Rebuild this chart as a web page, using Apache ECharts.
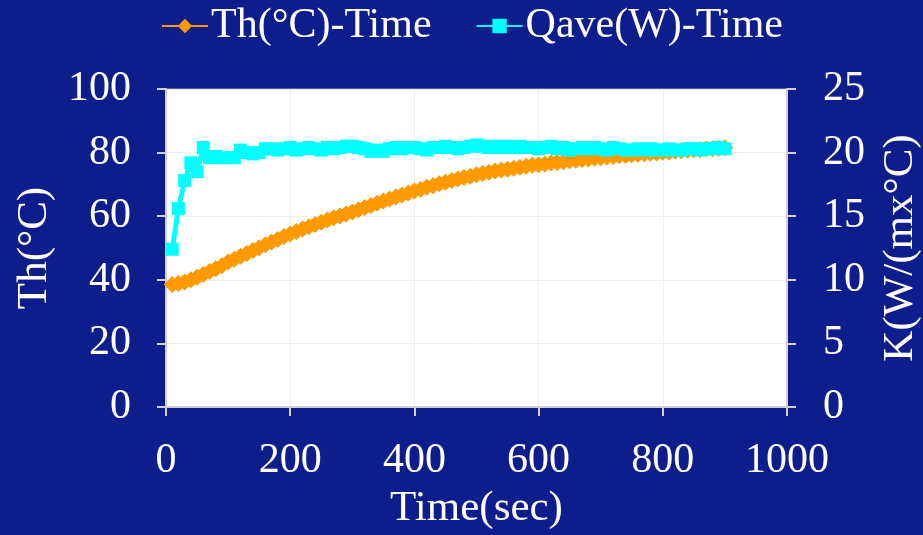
<!DOCTYPE html>
<html>
<head>
<meta charset="utf-8">
<script src="https://cdn.jsdelivr.net/npm/echarts@6/dist/echarts.min.js"></script>
<style>
html, body { margin: 0; padding: 0; background: #0d1e8c; }
#chart { width: 923px; height: 535px; }
</style>
</head>
<body>
<div id="chart"></div>
<script>
// time in seconds
var timeSec = [10,20,30,40,50,60,70,80,90,100,110,120,130,140,150,160,170,180,190,200,
    210,220,230,240,250,260,270,280,290,300,310,320,330,340,350,360,370,380,390,400,
    410,420,430,440,450,460,470,480,490,500,510,520,530,540,550,560,570,580,590,600,
    610,620,630,640,650,660,670,680,690,700,710,720,730,740,750,760,770,780,790,800,
    810,820,830,840,850,860,870,880,890,900];
// Th (°C), left axis
var thValues = [38.5,38.8,39.3,40.0,40.8,41.7,42.6,43.5,44.4,45.6,46.5,47.4,48.3,49.2,50.1,51.0,51.9,52.7,53.6,54.4,
    55.2,56.0,56.7,57.4,58.1,58.8,59.5,60.1,60.7,61.3,62.0,62.7,63.4,64.1,64.8,65.4,66.0,66.7,67.3,67.9,
    68.5,69.1,69.6,70.2,70.7,71.2,71.7,72.2,72.6,73.0,73.4,73.8,74.2,74.5,74.8,75.1,75.4,75.7,76.0,76.2,
    76.4,76.7,76.9,77.1,77.4,77.6,77.8,78.0,78.2,78.4,78.6,78.8,79.0,79.1,79.3,79.5,79.6,79.8,79.9,80.1,
    80.2,80.4,80.5,80.7,80.8,80.9,81.1,81.2,81.4,81.5];
// Qave (W), right axis
var qValues = [12.4,15.6,17.8,19.2,18.5,20.4,19.6,19.7,19.6,19.6,19.6,20.2,20.0,19.9,20.0,20.3,20.3,20.2,20.3,20.4,
    20.2,20.3,20.4,20.3,20.2,20.4,20.3,20.4,20.5,20.5,20.4,20.3,20.1,20.2,20.1,20.3,20.4,20.3,20.4,20.4,
    20.3,20.2,20.4,20.4,20.5,20.4,20.3,20.4,20.5,20.6,20.5,20.4,20.5,20.4,20.5,20.4,20.5,20.4,20.4,20.3,
    20.4,20.5,20.3,20.4,20.2,20.3,20.4,20.3,20.4,20.3,20.2,20.4,20.3,20.2,20.2,20.3,20.2,20.3,20.2,20.2,
    20.3,20.2,20.2,20.3,20.3,20.2,20.3,20.3,20.4,20.3];
var seriesNames = ['Th(°C)-Time', 'Qave(W)-Time'];

var thData = timeSec.map(function (t, i) { return [t, thValues[i]]; });
var qData = timeSec.map(function (t, i) { return [t, qValues[i]]; });

var FONT = '"Liberation Serif", "Times New Roman", serif';
var mychart = echarts.init(document.getElementById('chart'));
mychart.setOption({
    animation: false,
    backgroundColor: '#0d1e8c',
    legend: {
        top: 0,
        left: 156,
        itemWidth: 46,
        itemHeight: 18,
        itemGap: 44,
        textStyle: { color: '#fff', fontFamily: FONT, fontSize: 42, padding: [0, 0, 0, -2] },
        data: seriesNames
    },
    grid: {
        left: 166,
        right: 136,
        top: 89,
        bottom: 128,
        outerBoundsMode: 'none',
        containLabel: false,
        show: true,
        backgroundColor: '#fff',
        borderColor: '#999',
        borderWidth: 1
    },
    xAxis: {
        type: 'value',
        min: 0,
        max: 1000,
        interval: 200,
        name: 'Time(sec)',
        nameLocation: 'middle',
        nameGap: 80,
        nameTextStyle: { color: '#fff', fontFamily: FONT, fontSize: 43 },
        axisLine: { show: true, onZero: false, lineStyle: { color: '#d0d0d0', width: 2 } },
        axisTick: { show: true, length: 9, lineStyle: { color: '#d0d0d0', width: 2 } },
        axisLabel: { color: '#fff', fontFamily: FONT, fontSize: 42, margin: 33,
            formatter: function (v) { return String(v); } },
        splitLine: { show: true, lineStyle: { color: '#eeeeee', width: 1 } }
    },
    yAxis: [
        {
            type: 'value',
            min: 0,
            max: 100,
            interval: 20,
            name: 'Th(°C)',
            nameLocation: 'middle',
            nameGap: 110,
            nameTextStyle: { color: '#fff', fontFamily: FONT, fontSize: 43 },
            axisLine: { show: true, lineStyle: { color: '#d0d0d0', width: 2 } },
            axisTick: { show: true, length: 9, lineStyle: { color: '#d0d0d0', width: 2 } },
            axisLabel: { color: '#fff', fontFamily: FONT, fontSize: 42, margin: 35 },
            splitLine: { show: true, lineStyle: { color: '#eeeeee', width: 1 } }
        },
        {
            type: 'value',
            min: 0,
            max: 25,
            interval: 5,
            name: 'K(W/(mx°C)',
            nameLocation: 'middle',
            nameGap: 92,
            nameTextStyle: { color: '#fff', fontFamily: FONT, fontSize: 43 },
            axisLine: { show: true, lineStyle: { color: '#d0d0d0', width: 2 } },
            axisTick: { show: true, length: 9, lineStyle: { color: '#d0d0d0', width: 2 } },
            axisLabel: { color: '#fff', fontFamily: FONT, fontSize: 42, margin: 36 },
            splitLine: { show: false }
        }
    ],
    series: [
        {
            name: seriesNames[0],
            type: 'line',
            yAxisIndex: 0,
            data: thData,
            symbol: 'diamond',
            symbolSize: 17,
            itemStyle: { color: '#ff9900' },
            lineStyle: { color: '#ff9900', width: 5 }
        },
        {
            name: seriesNames[1],
            type: 'line',
            yAxisIndex: 1,
            data: qData,
            symbol: 'rect',
            symbolSize: 13,
            itemStyle: { color: '#00ffff' },
            lineStyle: { color: '#00ffff', width: 5 }
        }
    ]
});
</script>
</body>
</html>
